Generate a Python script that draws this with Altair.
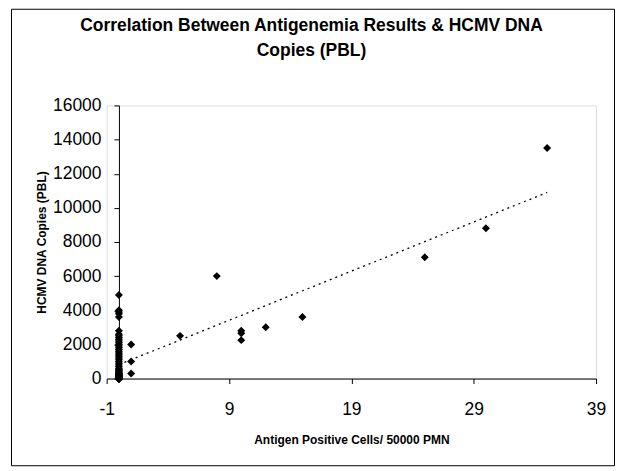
import altair as alt
import pandas as pd

# Antigen-positive cells = 0 group (HCMV DNA copies)
zero_group_copies = [
    0, 0, 0, 0, 0, 0, 0, 0, 0, 0, 0, 0, 0, 0, 0, 0, 0, 0, 0, 0,
    20, 30, 40, 50, 60, 70, 80, 90, 100, 110, 120, 130, 140, 150, 160, 180,
    200, 220, 250, 280, 300, 350, 400, 450, 500, 550, 600,
    700, 800, 900, 1000, 1100, 1200, 1300, 1400, 1500, 1600, 1700, 1800, 1900, 2000,
    2100, 2200, 2300, 2400, 2500, 2600, 2800,
    3600, 3800, 3900, 4000, 4900,
]
other_cells = [1, 1, 1, 5, 8, 10, 10, 10, 12, 15, 25, 30, 35]
other_copies = [2000, 1000, 300, 2500, 6000, 2800, 2650, 2250, 3000, 3600, 7100, 8800, 13500]

x_ticks = [-1, 9, 19, 29, 39]
y_ticks = [0, 2000, 4000, 6000, 8000, 10000, 12000, 14000, 16000]

title_lines = ["Correlation Between Antigenemia Results & HCMV DNA", "Copies (PBL)"]
x_title = "Antigen Positive Cells/ 50000 PMN"
y_title = "HCMV DNA Copies (PBL)"

df = pd.DataFrame({
    "cells": [0] * len(zero_group_copies) + other_cells,
    "copies": zero_group_copies + other_copies,
})

FONT = "Liberation Sans"
W, H = 491, 274
PAD_L, PAD_T, PAD_R, PAD_B = 99, 97, 20, 88

x_enc = alt.X(
    "cells:Q",
    scale=alt.Scale(domain=[-1, 39], nice=False, zero=False),
    axis=alt.Axis(
        values=x_ticks, title=x_title, grid=False, labelExpr="'' + datum.value",
        labelOverlap=False, labelFlush=False,
        domainColor="black", tickColor="black", tickSize=5,
        labelFont=FONT, labelFontSize=17.5, labelColor="black", labelPadding=17,
        titleFont=FONT, titleFontSize=12, titleFontWeight="bold", titleColor="black",
        titlePadding=17,
    ),
)
y_enc = alt.Y(
    "copies:Q",
    scale=alt.Scale(domain=[0, 16000], nice=False),
    axis=alt.Axis(
        values=y_ticks, tickCount=9, title=y_title, grid=False, offset=-12.3,
        labelExpr="'' + datum.value", labelOverlap=False, labelFlush=False,
        domainColor="black", tickColor="black", tickSize=5,
        labelFont=FONT, labelFontSize=17.5, labelColor="black", labelPadding=13,
        titleFont=FONT, titleFontSize=12, titleFontWeight="bold", titleColor="black",
        titlePadding=4,
    ),
)

points = alt.Chart(df).mark_point(
    shape="diamond", filled=True, color="black", size=64, opacity=1
).encode(x=x_enc, y=y_enc)

trend = alt.Chart(df).transform_regression(
    "cells", "copies"
).mark_line(color="black", strokeDash=[2, 4], strokeWidth=1.3).encode(
    x=x_enc, y=y_enc
)

border = alt.Chart(pd.DataFrame({"a": [0]})).mark_rect(
    filled=False, stroke="black", strokeWidth=1
).encode(
    x=alt.value(-95.5), x2=alt.value(509.5), y=alt.value(-96.5), y2=alt.value(361.5)
)

chart = alt.layer(border, trend, points).properties(
    width=W, height=H,
    title=alt.TitleParams(
        text=title_lines, font=FONT, fontSize=17.5, fontWeight="bold", color="black",
        anchor="middle", dx=-40, baseline="top", offset=-51, lineHeight=25,
    ),
    autosize=alt.AutoSizeParams(type="none"),
    padding={"left": PAD_L, "top": PAD_T, "right": PAD_R, "bottom": PAD_B},
).configure_view(stroke=None).configure(background="white")

chart.save("out.html", embed_options={"renderer": "svg", "actions": False})
